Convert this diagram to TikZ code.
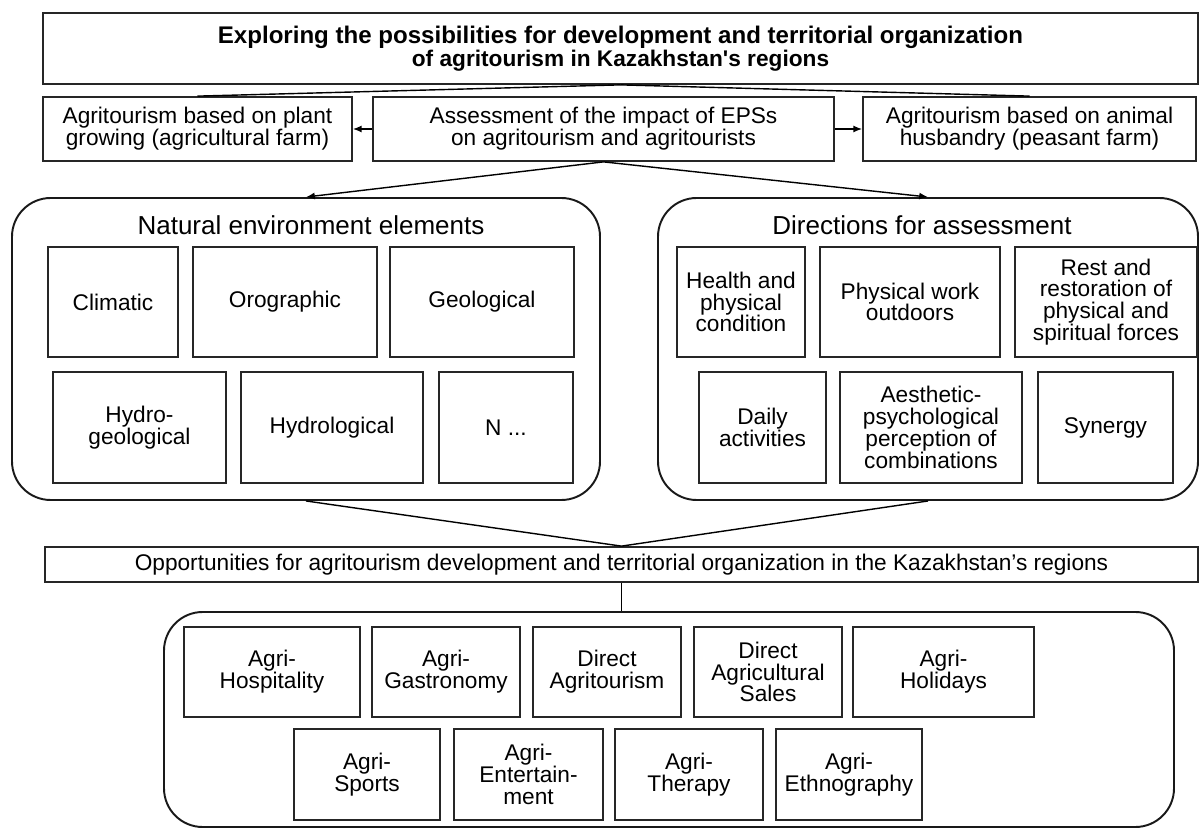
\documentclass[tikz,border=0pt]{standalone}
\usepackage{fontspec}
\setmainfont{Liberation Sans}
\usetikzlibrary{arrows.meta}

\tikzset{
  cell/.style={draw=black!85, line width=1pt, align=center, inner sep=1pt, font=\fontsize{12.9}{12.4}\selectfont},
  group/.style={draw=black!90, line width=1.1pt, rounded corners=22pt, inner sep=0pt},
  grouptitle/.style={font=\fontsize{14.8}{15}\selectfont},
  link/.style={line width=0.8pt, -{Latex[length=5pt,width=4pt]}},
  joint/.style={line width=0.8pt}
}
% box from its corners (x1,y1) to (x2,y2), in pixels of the picture
\newcommand{\cellbox}[7][cell]{%
  \node[#1, minimum width={(#5-#3)*0.02cm}, minimum height={(#6-#4)*0.02cm}] (#2) at ({(#3+#5)/2},{(#4+#6)/2}) {#7};}

\begin{document}
\begin{tikzpicture}[x=0.02cm, y=-0.02cm]
  \useasboundingbox (0,0) rectangle (1203,830);

  \cellbox{title}{43}{13}{1198}{84}{\fontsize{13.7}{14.5}\selectfont\bfseries Exploring the possibilities for development and territorial organization\\[0.5pt]\bfseries of agritourism in Kazakhstan\textquotesingle s regions}
  \cellbox{plant}{43}{97}{352}{161}{Agritourism based on plant\\growing (agricultural farm)}
  \cellbox{assess}{373}{97}{834}{161}{Assessment of the impact of EPSs\\on agritourism and agritourists}
  \cellbox{animal}{863}{97}{1196}{161}{Agritourism based on animal\\husbandry (peasant farm)}

  \cellbox[group]{natbox}{12}{198}{600}{500}{}
  \cellbox[group]{dirbox}{658}{198}{1198}{500}{}
  \node[grouptitle] (nattitle) at (311,225) {Natural environment elements};
  \node[grouptitle] (dirtitle) at (922,225) {Directions for assessment};

  \cellbox{climatic}{48}{247}{178}{357}{Climatic}
  \cellbox{orogr}{193}{247}{377}{357}{Orographic}
  \cellbox{geol}{390}{247}{574}{357}{Geological}
  \cellbox{hydrogeol}{53}{372}{226}{483}{Hydro-\\geological}
  \cellbox{hydrol}{241}{372}{423}{483}{Hydrological}
  \cellbox{nmore}{439}{372}{573}{483}{N ...}

  \cellbox{health}{677}{247}{805}{357}{Health and\\physical\\condition}
  \cellbox{work}{820}{247}{1000}{357}{Physical work\\outdoors}
  \cellbox{rest}{1015}{247}{1197}{357}{Rest and\\restoration of\\physical and\\spiritual forces}
  \cellbox{daily}{699}{372}{826}{483}{Daily\\activities}
  \cellbox{aesth}{840}{372}{1022}{483}{Aesthetic-\\psychological\\perception of\\combinations}
  \cellbox{synergy}{1038}{372}{1173}{483}{Synergy}

  \cellbox{opp}{45}{547}{1198}{582}{Opportunities for agritourism development and territorial organization in the Kazakhstan’s regions}
  \cellbox[group]{formbox}{164}{612}{1174}{827}{}

  \foreach \name/\xa/\xb/\txt in {hosp/184/360/{Agri-\\Hospitality}, gastro/372/520/{Agri-\\Gastronomy}, direct/533/681/{Direct\\Agritourism}, sales/694/842/{Direct\\Agricultural\\Sales}, holid/853/1034/{Agri-\\Holidays}}
    \cellbox{\name}{\xa}{627}{\xb}{717}{\txt};
  \foreach \name/\xa/\xb/\txt in {sports/294/440/{Agri-\\Sports}, entert/454/603/{Agri-\\Entertain-\\ment}, therapy/615/763/{Agri-\\Therapy}, ethno/776/922/{Agri-\\Ethnography}}
    \cellbox{\name}{\xa}{729}{\xb}{820}{\txt};

  \draw[joint] (title.south) -- (plant.north);
  \draw[joint] (title.south) -- (animal.north);
  \draw[link] (assess) -- (plant);
  \draw[link] (assess) -- (animal);
  \draw[link] (assess.south) -- (natbox.north);
  \draw[link] (assess.south) -- (dirbox.north);
  \draw[joint] (natbox.south) -- (opp.north);
  \draw[joint] (dirbox.south) -- (opp.north);
  \draw[joint] (opp.south) -- (opp.south |- formbox.north);
\end{tikzpicture}
\end{document}
